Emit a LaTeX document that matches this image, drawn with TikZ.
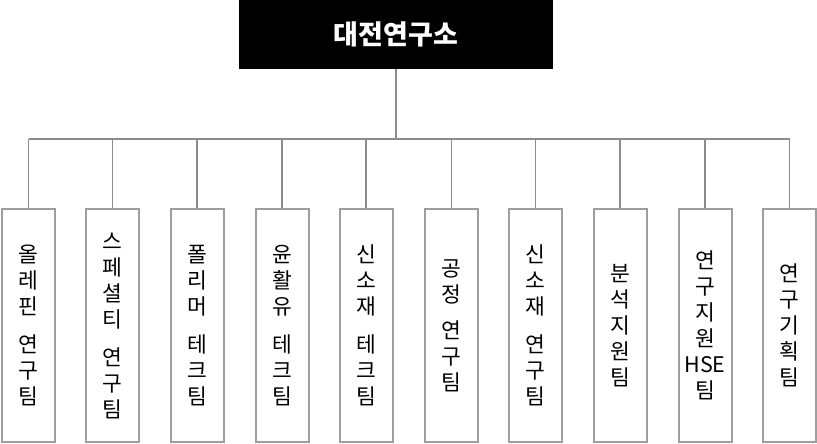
\documentclass[tikz,border=0pt]{standalone}
\usepackage{fontspec}
\newfontfamily\kr{Noto Sans CJK KR}
\usepackage{tikz}
\usetikzlibrary{positioning}

\tikzset{
  lab/.style={draw=black!38, line width=2pt, minimum width=53pt, minimum height=233pt,
    inner sep=0pt, align=center, font=\kr\fontsize{21.5}{26}\selectfont},
  head/.style={fill=black, minimum width=314pt, minimum height=69pt, inner sep=0pt,
    text=white, font=\kr\bfseries\fontsize{27}{30}\selectfont},
  link/.style={draw=black!45, line width=1.3pt}
}

\begin{document}
\begin{tikzpicture}[x=1pt,y=-1pt]
\useasboundingbox (0,0) rectangle (817,444);
\node[head] (top) at (396,34.5) {대전연구소};
\coordinate (bus) at (0,139);
\node[lab] (t1)  at (28.5,325.5)  {올\\레\\핀\\[12pt]연\\구\\팀};
\node[lab] (t2)  at (112.5,325.5) {스\\페\\셜\\티\\[12pt]연\\구\\팀};
\node[lab] (t3)  at (197,325.5)   {폴\\리\\머\\[12pt]테\\크\\팀};
\node[lab] (t4)  at (282,325.5)   {윤\\활\\유\\[12pt]테\\크\\팀};
\node[lab] (t5)  at (366,325.5)   {신\\소\\재\\[12pt]테\\크\\팀};
\node[lab] (t6)  at (451.5,325.5) {공\\정\\[10pt]연\\구\\팀};
\node[lab] (t7)  at (535.5,325.5) {신\\소\\재\\[12pt]연\\구\\팀};
\node[lab] (t8)  at (620,325.5)   {분\\석\\지\\원\\팀};
\node[lab] (t9)  at (705,325.5)   {연\\구\\지\\원\\HSE\\팀};
\node[lab] (t10) at (789.5,325.5) {연\\구\\기\\획\\팀};
\draw[link] (top.south) -- (top.south |- bus);
\draw[link] (t1.north |- bus) -- (t10.north |- bus);
\foreach \i in {1,...,10}
  \draw[link] (t\i.north |- bus) -- (t\i.north);
\end{tikzpicture}
\end{document}
